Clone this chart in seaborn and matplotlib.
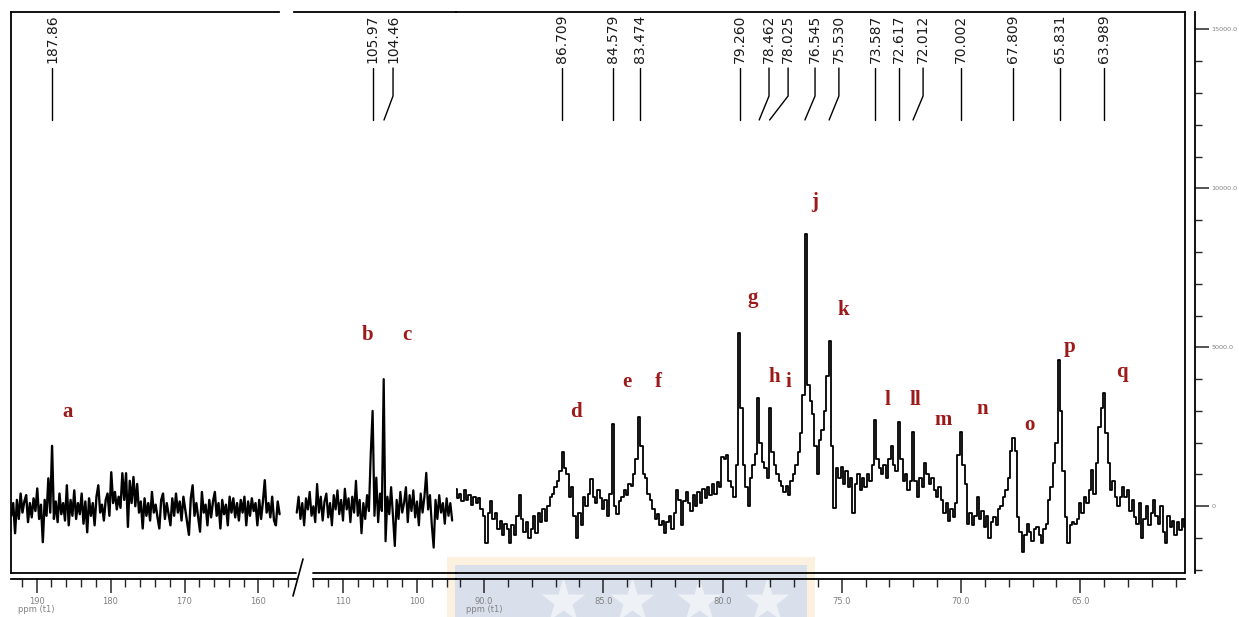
import numpy as np
import pandas as pd
import matplotlib
matplotlib.use("Agg")
import matplotlib.pyplot as plt
import matplotlib.transforms as mtransforms
from matplotlib.lines import Line2D
from matplotlib.patches import Rectangle
from matplotlib.ticker import MultipleLocator, FixedLocator, FormatStrFormatter, FuncFormatter
import seaborn as sns

# 13C NMR trace, intensities
# segment 1: 193.4 -> 157.15 ppm, 0.25 ppm per sample
carbonyl_start, carbonyl_step = 193.4, 0.25
carbonyl_int = [
    -300, 100, -850, 200, -400, 400, -200, 150, 350, -500,
    100, -350, 250, -150, 560, -400, 50, -1130, 200, -300,
    880, -200, 1900, -400, 150, -500, 400, -250, 100, -450,
    660, -600, 200, -300, 500, -400, 100, -250, 400, -550,
    150, -820, 250, -300, 100, -600, 300, 660, -200, 50,
    -450, 200, 400, -300, 1070, 100, 450, -100, 300, -50,
    1040, 200, 1040, -650, 800, 100, 920, 0, 700, -200,
    150, -700, 250, -300, 100, -450, 450, -200, 50, -350,
    -700, 200, 400, -400, 100, -250, -600, 250, -300, 400,
    -200, 150, -450, 300, -100, -500, -900, 250, 660, -300,
    100, -350, -800, 450, -200, 50, -600, 200, -350, 150,
    450, -300, 100, -700, 200, -250, 50, -600, 300, -200,
    250, -350, 100, -450, 200, -200, 300, -600, 150, -300,
    250, -150, 100, -600, 200, -400, 150, 820, -200, 100,
    -350, 300, -450, -600, 150, -250,
]

# segment 2: 116.25 -> 95.25 ppm, 0.25 ppm per sample
anomeric_start, anomeric_step = 116.25, 0.25
anomeric_int = [
    -200,
    300, -400, 100, -600, 250, -100, 450, -300, 0, -500, 700, -200,
    300, -450, 150, 400, -350, 100, -600, 350, -100, 500, -250, 200,
    -450, 550, -100, 250, -500, 300, -200, 800, -300, 200, -850, 100,
    -400, 350, -150, 1650, 3000, -300, 900, -500, 400, -150, 4000, -1100,
    300, -250, 600, -300, -1250, 200, -400, 450, -200, 100, 600, -500,
    350, -150, 500, -350, 150, -600, 400, -200, 300, 1050, -100, 350,
    -600, -1300, 200, -400, 350, -200, 100, -550, 250, -300, 100, -450,
]

# segment 3: 91.2 -> 60.6 ppm, 0.1 ppm per sample
ring_start, ring_step = 91.2, 0.1
ring_int = [
    550, 250,
    400, 150, 500, 200, 350, 50, 300, 100, 250, -100,
    -300, -1150, -200, 150, -400, -200, -700, -450, -900, -550,
    -700, -1150, -600, -900, -300, 350, -400, -800, -500, -1000,
    -700, -300, -850, -200, -500, -100, -450, 0, 300, 400,
    600, 800, 1100, 1700, 1200, 1000, 300, 600, -300, -1000,
    -200, -600, 300, 0, 400, 850, 300, 100, 500, 250,
    -100, 200, -300, 400, 2600, 0, -250, 150, 300, 500,
    350, 700, 650, 1000, 1500, 2800, 1900, 1000, 900, 400,
    200, -100, -400, -250, -600, -450, -850, -500, -300, -700,
    -200, 500, 200, -600, 150, 450, 100, -150, 350, 0,
    450, 100, 550, 250, 600, 350, 700, 400, 750, 600,
    1550, 1500, 1600, 800, 600, 300, 1300, 5450, 3100, 1300,
    600, 0, 900, 1300, 1650, 3400, 2000, 1400, 1200, 900,
    3100, 1700, 1300, 1000, 800, 650, 450, 650, 350, 800,
    1000, 1300, 1700, 2300, 3500, 8550, 3800, 3300, 2900, 1900,
    1000, 2100, 2400, 3000, 4100, 5200, 1900, -50, 1200, 900,
    1250, 700, 1100, 600, 900, -200, 700, 1000, 500, 900,
    600, 1000, 800, 1300, 2700, 1500, 1200, 1000, 1300, 900,
    1500, 1900, 1300, 1100, 2650, 1500, 800, 1000, 500, 800,
    2350, 800, 300, 900, 600, 1350, 1000, 700, 900, 500,
    300, 600, 200, -200, 100, -450, -100, -350, 100, 1600,
    2350, 1300, 700, -550, -200, -600, -300, 300, -400, -150,
    -650, -300, -1000, -500, -350, -600, -100, 0, 300, 500,
    900, 1750, 2150, 1750, -350, -800, -1450, -900, -550, -800,
    -1100, -700, -650, -900, -1150, -700, -550, 200, 600, 1350,
    2000, 4600, 3000, 1100, -350, -1150, -600, -500, -550, -400,
    100, -200, 300, 100, 500, 1150, 400, 1350, 2500, 3100,
    3550, 2300, 1350, 500, 800, 300, 0, 300, 600, 300,
    500, -150, 200, -350, -550, 100, -1000, -400, 0, -600,
    -200, 200, -300, -550, 0, -800, -1150, -300, -650, -450,
    -900, -500, -750, -400, -650,
]

# picked peaks: true shift, printed text, where the printed text sits
peak_ppm = [187.86, 105.97, 104.46, 86.709, 84.579, 83.474, 79.260, 78.462, 78.025,
            76.545, 75.530, 73.587, 72.617, 72.012, 70.002, 67.809, 65.831, 63.989]
peak_text = ["187.86", "105.97", "104.46", "86.709", "84.579", "83.474", "79.260", "78.462",
             "78.025", "76.545", "75.530", "73.587", "72.617", "72.012", "70.002", "67.809",
             "65.831", "63.989"]
peak_text_ppm = [187.86, 105.97, 103.24, 86.709, 84.579, 83.474, 79.260, 78.05, 77.25,
                 76.12, 75.12, 73.587, 72.617, 71.59, 70.002, 67.809, 65.831, 63.989]

# carbon assignment letters
letters = ["a", "b", "c", "d", "e", "f", "g", "h", "i", "j", "k", "l", "ll", "m", "n", "o", "p", "q"]
letter_ppm = [185.74, 106.62, 101.35, 86.14, 84.0, 82.70, 78.72, 77.84, 77.25,
              76.12, 74.95, 73.10, 71.93, 70.75, 69.12, 67.11, 65.43, 63.25]
letter_height = [2965, 5395, 5395, 2965, 3909, 3909, 6551, 4066, 3909,
                 9572, 6173, 3342, 3342, 2713, 3059, 2556, 5010, 4223]

segments = [
    pd.DataFrame({"ppm": carbonyl_start - carbonyl_step * np.arange(len(carbonyl_int)),
                  "intensity": carbonyl_int}),
    pd.DataFrame({"ppm": anomeric_start - anomeric_step * np.arange(len(anomeric_int)),
                  "intensity": anomeric_int}),
    pd.DataFrame({"ppm": ring_start - ring_step * np.arange(len(ring_int)),
                  "intensity": ring_int}),
]

sns.set_style("white")
plt.rcParams["font.family"] = ["DejaVu Sans"]

W, H = 1239, 617
fig = plt.figure(figsize=(W / 100, H / 100), dpi=100)
fig.patch.set_facecolor("white")

# faint watermark behind the axis (from the source page)
fig.add_artist(Rectangle((447 / W, 0), 368 / W, 60 / H, transform=fig.transFigure,
                         facecolor="#fbf1de", edgecolor="none", zorder=-2))
fig.add_artist(Rectangle((455 / W, 0), 352 / W, 52 / H, transform=fig.transFigure,
                         facecolor="#d9e0eb", edgecolor="none", zorder=-1.5))
for sx in (563, 632, 699, 767):
    fig.add_artist(Line2D([sx / W], [16 / H], marker="*", markersize=34, color="#eef1f6",
                          markeredgecolor="none", transform=fig.transFigure, zorder=-1))

bottom, top = (617 - 573) / H, (617 - 12) / H
ax1 = fig.add_axes([11.3 / W, bottom, (296 - 11.3) / W, top - bottom])
ax2 = fig.add_axes([294 / W, bottom, (455.5 - 294) / W, top - bottom])
ax3 = fig.add_axes([455.5 / W, bottom, (1185.2 - 455.5) / W, top - bottom])
axes = [ax1, ax2, ax3]
xlims = [(193.41, 154.93), (116.62, 94.80), (91.195, 60.60)]
styles = ["default", "default", "steps-mid"]
widths = [1.7, 1.6, 1.3]

gray = "#808080"
for ax, seg, lim, ds, lw in zip(axes, segments, xlims, styles, widths):
    sns.lineplot(data=seg, x="ppm", y="intensity", ax=ax, color="black", lw=lw,
                 drawstyle=ds, estimator=None)
    ax.set_xlim(*lim)
    ax.set_ylim(-2100, 15550)
    ax.set_facecolor("none")
    ax.set_xlabel("")
    ax.set_ylabel("")
    for s in ax.spines.values():
        s.set_linewidth(1.3)
        s.set_color("black")
    ax.spines["bottom"].set_position(("outward", 4))
    ax.tick_params(axis="x", which="major", direction="out", length=10, width=1.1,
                   labelsize=6, labelcolor=gray, pad=3.5, bottom=True)
    ax.tick_params(axis="x", which="minor", direction="out", length=6, width=1.0, bottom=True)
    ax._blend = mtransforms.blended_transform_factory(ax.transData, ax.transAxes)

# segment 1
ax1.spines["right"].set_visible(False)
ax1.spines["top"].set_bounds(157.28, 193.41)
ax1.set_yticks([])
ax1.xaxis.set_major_locator(MultipleLocator(10))
ax1.xaxis.set_minor_locator(MultipleLocator(2))
ax1.xaxis.set_major_formatter(FormatStrFormatter("%d"))
ax1.plot([193.41, 154.93], [0, 0], transform=ax1._blend, color="black", lw=1.3, clip_on=False)

# segment 2
ax2.spines["left"].set_visible(False)
ax2.spines["right"].set_visible(False)
ax2.spines["bottom"].set_bounds(94.80, 114.0)
ax2.set_yticks([])
ax2.xaxis.set_major_locator(FixedLocator([110, 100]))
ax2.xaxis.set_minor_locator(FixedLocator([114, 112, 108, 106, 104, 102, 98, 96]))
ax2.xaxis.set_major_formatter(FormatStrFormatter("%d"))
ax2.plot([114.0, 94.80], [0, 0], transform=ax2._blend, color="black", lw=1.3, clip_on=False)

# segment 3 with the intensity axis on the right
ax3.spines["left"].set_visible(False)
ax3.spines["right"].set_position(("outward", 7))
ax3.xaxis.set_major_locator(MultipleLocator(5))
ax3.xaxis.set_minor_locator(MultipleLocator(1))
ax3.xaxis.set_major_formatter(FormatStrFormatter("%.1f"))
ax3.yaxis.tick_right()
ax3.yaxis.set_major_locator(FixedLocator([0, 5000, 10000, 15000]))
ax3.yaxis.set_minor_locator(MultipleLocator(1000))
ax3.yaxis.set_major_formatter(FuncFormatter(lambda v, _: "0" if v == 0 else f"{v:.1f}"))
ax3.tick_params(axis="y", which="major", direction="out", length=10, width=1.1,
                labelsize=4.6, labelcolor=gray, pad=2, right=True, left=False)
ax3.tick_params(axis="y", which="minor", direction="out", length=5, width=1.0,
                right=True, left=False)
ax3.plot([91.195, 60.60], [0, 0], transform=ax3._blend, color="black", lw=1.3, clip_on=False)
ax3.plot([1, 1], [0, 1], transform=ax3.transAxes, color="black", lw=1.3, clip_on=False)


def axis_for(ppm):
    if ppm > 150:
        return ax1
    if ppm > 94.8:
        return ax2
    return ax3


# peak pick labels along the top
y_line_top, y_kink, y_line_bot, y_text = 0.9002, 0.8503, 0.8075, 0.9091
for p, txt, tp in zip(peak_ppm, peak_text, peak_text_ppm):
    ax = axis_for(p)
    if abs(tp - p) > 0.05:
        ax.plot([tp, tp, p], [y_line_top, y_kink, y_line_bot], transform=ax._blend,
                color="black", lw=1.0, clip_on=False)
    else:
        ax.plot([p, p], [y_line_top, y_line_bot], transform=ax._blend,
                color="black", lw=1.0, clip_on=False)
    ax.text(tp, y_text, txt, transform=ax._blend, rotation=90, ha="center", va="bottom",
            fontsize=10, color="#1a1a1a")

# assignment letters
for lab, p, h in zip(letters, letter_ppm, letter_height):
    ax = axis_for(p)
    ax.text(p, h, lab, ha="center", va="center", fontfamily="Liberation Serif",
            fontweight="bold", fontsize=15, color="#9c1a1a")

# axis unit captions under the first labels of segments 1 and 3
for ax, p in ((ax1, 190), (ax3, 90)):
    t = mtransforms.blended_transform_factory(ax.transData, fig.transFigure)
    ax.text(p, (617 - 610) / H, "ppm (t1)", transform=t, ha="center", va="center",
            fontsize=6, color=gray)

# axis break mark
fig.add_artist(Line2D([293 / W, 303 / W], [(617 - 596) / H, (617 - 559) / H],
                      color="black", lw=1.2, transform=fig.transFigure))

fig.savefig("out.png", dpi=100, facecolor="white")
